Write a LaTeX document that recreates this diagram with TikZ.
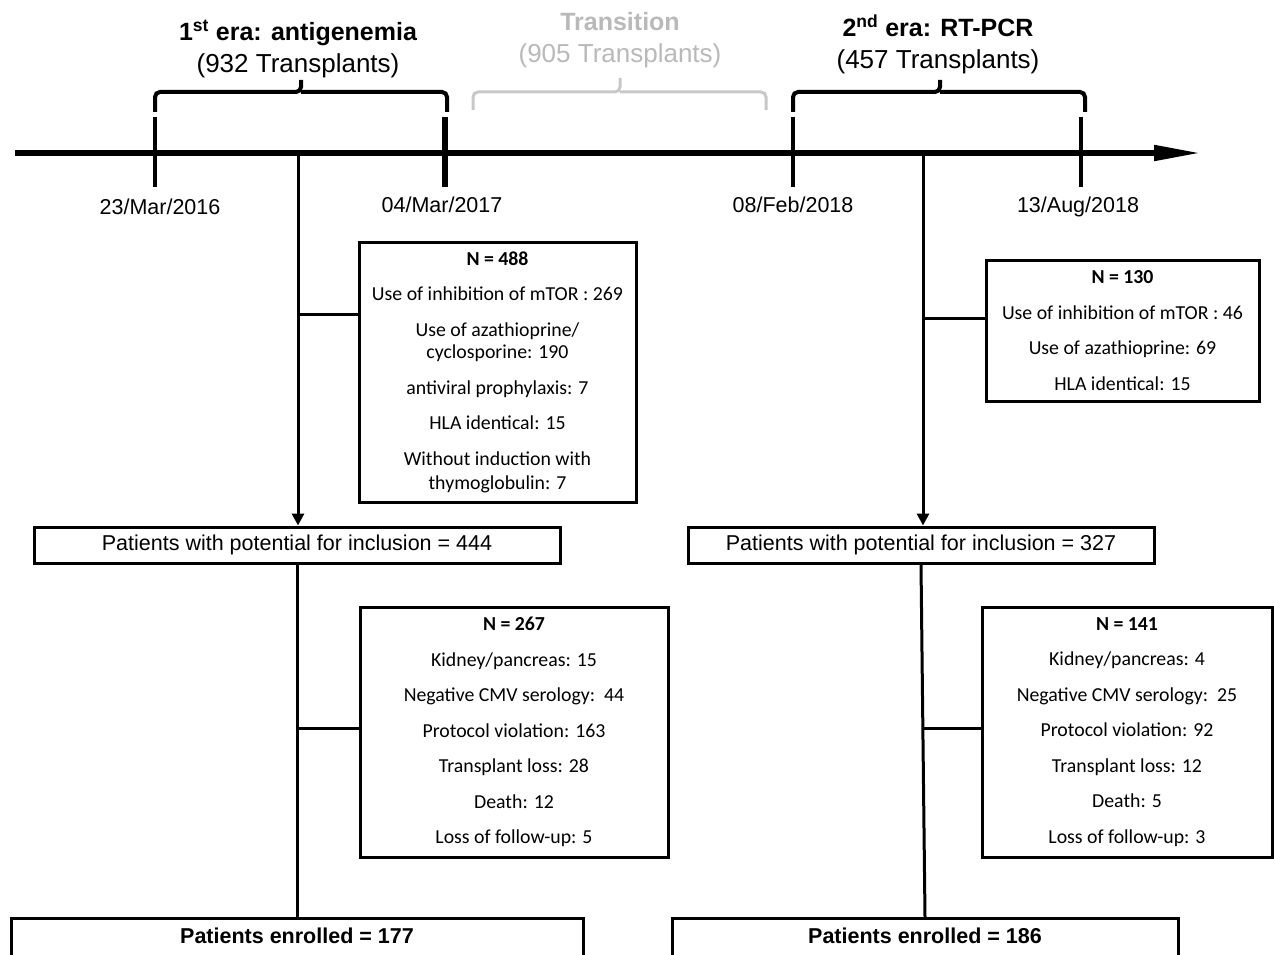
\documentclass[tikz,border=0pt]{standalone}
\usepackage{fontspec}
\setmainfont{Liberation Sans}
\newfontfamily\boxfont{Carlito}
\usetikzlibrary{arrows.meta}
\definecolor{lightgraytxt}{RGB}{185,185,185}
\definecolor{lightgrayline}{RGB}{200,200,200}
\begin{document}
\begin{tikzpicture}[x=1pt,y=-1pt,
  box/.style={draw, line width=3pt, inner sep=0pt, font=\boxfont\fontsize{19.8}{35.5}\selectfont, align=center},
  flowbox/.style={draw, line width=3pt, inner sep=0pt, font=\fontsize{21.5}{26}\selectfont},
  conn/.style={line width=3pt},
  arr/.style={conn, -{Triangle[length=12pt,width=12pt]}},
  tick/.style={line width=4.5pt},
  brace/.style={line width=4pt, rounded corners=5pt},
  title/.style={font=\bfseries\fontsize{25}{30}\selectfont, inner sep=0pt, anchor=base},
  subtitle/.style={font=\fontsize{26}{30}\selectfont, inner sep=0pt, anchor=base},
  datelbl/.style={font=\fontsize{21.5}{26}\selectfont, inner sep=0pt, anchor=base}
]
\useasboundingbox (0,0) rectangle (1274,955);
\clip (0,0) rectangle (1274,955);

% titles
\node[title] (t1) at (298,41) {1\textsuperscript{st} era: antigenemia};
\node[subtitle] (s1) at (298,73) {(932 Transplants)};
\node[title, text=lightgraytxt] (t2) at (620,31) {Transition};
\node[subtitle, text=lightgraytxt] (s2) at (620,63) {(905 Transplants)};
\node[title] (t3) at (938,37) {2\textsuperscript{nd} era: RT-PCR};
\node[subtitle] (s3) at (938,69) {(457 Transplants)};

% braces
\draw[brace] (155,112) -- (155,92) -- (301,92) -- (301,80);
\draw[brace] (301,92) -- (447,92) -- (447,112);
\draw[brace, lightgrayline, line width=3pt] (473,110) -- (473,92) -- (620,92) -- (620,78);
\draw[brace, lightgrayline, line width=3pt] (620,92) -- (766,92) -- (766,110);
\draw[brace] (793,112) -- (793,92) -- (940,92) -- (940,80);
\draw[brace] (940,92) -- (1085,92) -- (1085,112);

% timeline
\coordinate (tl0) at (15,153);
\coordinate (tl1) at (1200,153);
\draw[line width=5pt, -{Triangle[length=46pt,width=15pt]}] (tl0) -- (tl1);

% ticks
\draw[tick] (155,117) -- (155,187);
\draw[tick, line width=5.5pt] (445,117) -- (445,187);
\draw[tick] (793,117) -- (793,187);
\draw[tick] (1081,117) -- (1081,187);

% dates
\node[datelbl] (d1) at (160,214) {23/Mar/2016};
\node[datelbl] (d2) at (442,212) {04/Mar/2017};
\node[datelbl] (d3) at (793,212) {08/Feb/2018};
\node[datelbl] (d4) at (1078,212) {13/Aug/2018};

% boxes
\node[box, minimum width=277pt, minimum height=260pt] (b1) at (497.5,372) {};
\node[box, draw=none] (b1t) at (497.5,372.5) {\textbf{N = 488}\\
Use of inhibition of mTOR : 269\\
Use of azathioprine/\\[-13pt]
cyclosporine: 190\\
antiviral prophylaxis: 7\\
HLA identical: 15\\
Without induction with\\[-11pt]
thymoglobulin: 7};

\node[box, minimum width=273pt, minimum height=141pt] (b2) at (1122.5,330.5) {\textbf{N = 130}\\
Use of inhibition of mTOR : 46\\
Use of azathioprine: 69\\
HLA identical: 15};

\node[flowbox, minimum width=526pt, minimum height=36pt] (p1) at (297,545) {Patients with potential for inclusion = 444};
\node[flowbox, minimum width=466pt, minimum height=36pt] (p2) at (921,545) {Patients with potential for inclusion = 327};

\node[box, minimum width=308pt, minimum height=250pt] (b3) at (514,732) {\textbf{N = 267}\\
Kidney/pancreas: 15\\
Negative CMV serology:\ \ 44\\
Protocol violation: 163\\
Transplant loss: 28\\
Death: 12\\
Loss of follow-up: 5};

\node[box, minimum width=290pt, minimum height=250pt] (b4) at (1127,732) {\textbf{N = 141}\\
Kidney/pancreas: 4\\
Negative CMV serology:\ \ 25\\
Protocol violation: 92\\
Transplant loss: 12\\
Death: 5\\
Loss of follow-up: 3};

\node[flowbox, anchor=north, minimum width=572pt, minimum height=80pt,
  label={[font=\bfseries\fontsize{21.5}{26}\selectfont, inner sep=0pt, anchor=north, yshift=-11pt]north:Patients enrolled = 177}] (e1) at (297,917) {};
\node[flowbox, anchor=north, minimum width=506pt, minimum height=80pt,
  label={[font=\bfseries\fontsize{21.5}{26}\selectfont, inner sep=0pt, anchor=north, yshift=-11pt]north:Patients enrolled = 186}] (e2) at (925,917) {};

% connectors left
\coordinate (v1) at (298,153);
\draw[arr] (v1) -- (v1 |- p1.north);
\coordinate (br1) at (298,314);
\draw[conn] (br1) -- (br1 -| b1.west);
\draw[conn] (p1.south) -- (e1.north);
\coordinate (br3) at (297,728);
\draw[conn] (br3) -- (br3 -| b3.west);

% connectors right
\coordinate (v2) at (923,153);
\draw[arr] (v2) -- (v2 |- p2.north);
\coordinate (br2) at (923,318);
\draw[conn] (br2) -- (br2 -| b2.west);
\draw[conn] (p2.south) -- (e2.north);
\coordinate (br4) at (923,728);
\draw[conn] (br4) -- (br4 -| b4.west);
\end{tikzpicture}
\end{document}
